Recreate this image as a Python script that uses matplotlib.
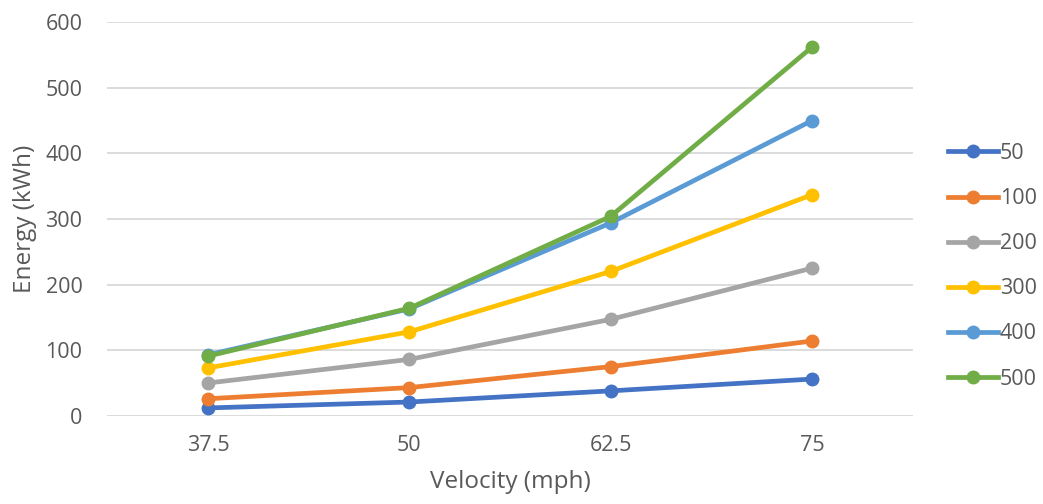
import matplotlib.pyplot as plt
from matplotlib.lines import Line2D

plt.rcParams['font.family'] = ['Open Sans', 'DejaVu Sans']

# data
velocity = ['37.5', '50', '62.5', '75']
e_50 = [12, 21, 38, 56]
e_100 = [26, 43, 75, 114]
e_200 = [50, 86, 147, 225]
e_300 = [73, 128, 220, 337]
e_400 = [93, 163, 294, 450]
e_500 = [91, 164, 304, 562]
series_names = ['50', '100', '200', '300', '400', '500']

colors = ['#4472C4', '#ED7D31', '#A5A5A5', '#FFC000', '#5B9BD5', '#70AD47']
all_series = [e_50, e_100, e_200, e_300, e_400, e_500]

fig = plt.figure(figsize=(10.43, 5.04), dpi=100)
ax = fig.add_axes([0.103, 0.175, 0.772, 0.781])

x = range(len(velocity))
for vals, name, c in zip(all_series, series_names, colors):
    ax.plot(x, vals, color=c, lw=3.4, marker='o', ms=9, label=name,
            solid_capstyle='round')

ax.set_xlim(-0.5, 3.5)
ax.set_ylim(0, 600)
ax.set_yticks(range(0, 601, 100))
ax.set_xticks(list(x))
ax.set_xticklabels(velocity)
ax.grid(axis='y', color='#D9D9D9', lw=1.3)
ax.set_axisbelow(True)
for s in ax.spines.values():
    s.set_visible(False)
ax.tick_params(length=0, labelsize=15.5, labelcolor='#595959')
ax.tick_params(axis='y', pad=18)
ax.tick_params(axis='x', pad=14)

ax.set_xlabel('Velocity (mph)', fontsize=17.5, color='#595959', labelpad=10)
ax.set_ylabel('Energy (kWh)', fontsize=17.5, color='#595959', labelpad=6)

handles = [Line2D([0], [0], color=c, lw=3.4, marker='o', ms=9) for c in colors]
ax.legend(handles, series_names, loc='center left', bbox_to_anchor=(1.02, 0.38),
          frameon=False, fontsize=15.5, labelcolor='#595959',
          handlelength=2.3, handletextpad=0.1, labelspacing=1.12)

fig.savefig('out.png', dpi=100)
